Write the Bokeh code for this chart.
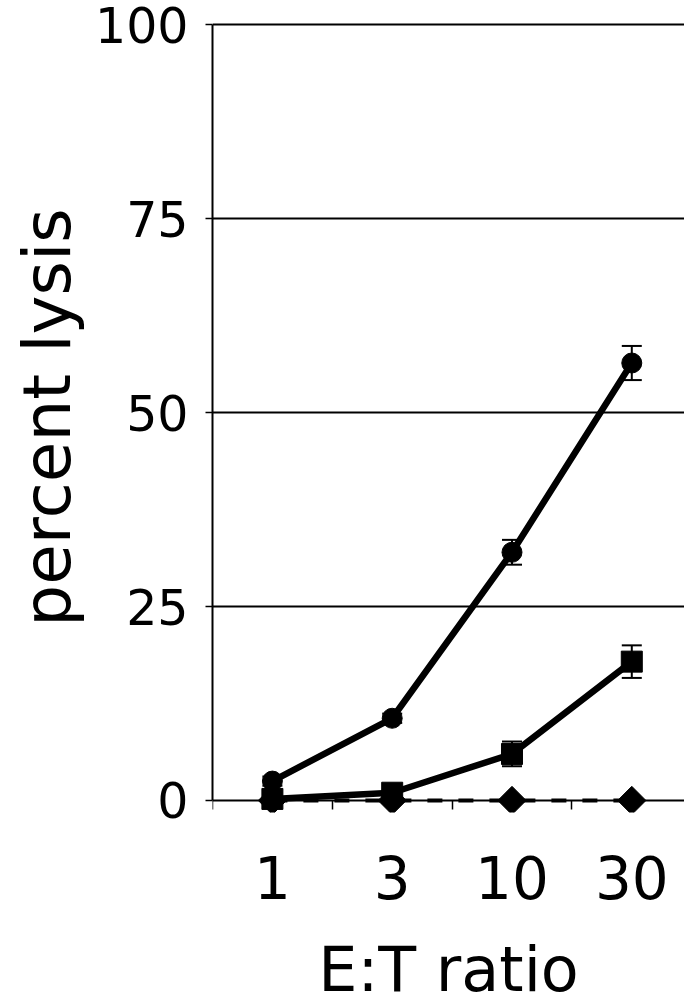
from bokeh.plotting import figure
from bokeh.models import Range1d, FixedTicker, Whisker, TeeHead, ColumnDataSource, LinearAxis
from bokeh.embed import file_html
from bokeh.resources import INLINE

ratios = ["1", "3", "10", "30"]
circle_vals = [2.5, 10.6, 32.0, 56.4]
circle_err = [0.6, 0.6, 1.6, 2.2]
square_vals = [0.2, 1.0, 6.0, 17.9]
square_err = [0.3, 0.4, 1.6, 2.1]
diamond_vals = [0.0, 0.0, 0.0, 0.0]
y_ticks = [0, 25, 50, 75, 100]

xs = [i + 0.5 for i in range(len(ratios))]
bounds = [i for i in range(len(ratios) + 1)]

p = figure(width=684, height=1008, output_backend="svg", toolbar_location=None,
           x_range=Range1d(0, 3.94), y_range=Range1d(-1.55, 100.3),
           min_border_left=212, min_border_top=22, min_border_bottom=196,
           min_border_right=0)
p.outline_line_color = None
p.background_fill_color = "white"
p.border_fill_color = "white"

font = "DejaVu Sans"

# y axis
p.yaxis.ticker = FixedTicker(ticks=y_ticks)
p.yaxis.bounds = (0, 100)
p.yaxis.axis_label = "percent lysis"
p.yaxis.axis_label_text_font = font
p.yaxis.axis_label_text_font_size = "66px"
p.yaxis.axis_label_text_font_style = "normal"
p.yaxis.axis_label_text_color = "black"
p.yaxis.major_label_text_font = font
p.yaxis.major_label_text_font_size = "49px"
p.yaxis.major_label_text_color = "black"
p.yaxis.axis_line_width = 2
p.yaxis.axis_line_color = "black"
p.yaxis.major_tick_in = 0
p.yaxis.major_tick_out = 7
p.yaxis.major_tick_line_width = 1.5
p.yaxis.minor_tick_line_color = None
p.yaxis.major_label_standoff = 17
p.yaxis.axis_label_standoff = 6

# x axis labels (at frame bottom, no line/ticks)
p.xaxis.ticker = FixedTicker(ticks=xs)
p.xaxis.major_label_overrides = {x: r for x, r in zip(xs, ratios)}
p.xaxis.axis_label = "E:T ratio"
p.xaxis.axis_label_text_font = font
p.xaxis.axis_label_text_font_size = "62px"
p.xaxis.axis_label_text_font_style = "normal"
p.xaxis.axis_label_text_color = "black"
p.xaxis.major_label_text_font = font
p.xaxis.major_label_text_font_size = "58px"
p.xaxis.major_label_text_color = "black"
p.xaxis.axis_line_color = None
p.xaxis.major_tick_line_color = None
p.xaxis.major_tick_in = 0
p.xaxis.major_tick_out = 0
p.xaxis.minor_tick_line_color = None
p.xaxis.minor_tick_in = 0
p.xaxis.minor_tick_out = 0
p.xaxis.major_label_standoff = 43
p.xaxis.axis_label_standoff = 31

# x axis line and boundary ticks drawn at y = 0
zero_axis = LinearAxis(fixed_location=0,
                       ticker=FixedTicker(ticks=[], minor_ticks=bounds),
                       axis_line_width=2, axis_line_color="black",
                       major_tick_line_color=None, major_label_text_font_size="0px",
                       minor_tick_in=0, minor_tick_out=9, minor_tick_line_width=1.5,
                       minor_tick_line_color="black")
p.add_layout(zero_axis, "below")

p.xgrid.grid_line_color = None
p.ygrid.ticker = FixedTicker(ticks=y_ticks[1:])
p.ygrid.grid_line_color = "black"
p.ygrid.grid_line_width = 2

# diamonds, dashed line
p.line(xs, diamond_vals, line_color="black", line_width=4, line_dash="15 16")
p.scatter(xs, diamond_vals, marker="square", angle=0.785398, size=20, color="black")

# squares
sq_src = ColumnDataSource(dict(x=xs, y=square_vals,
                               lo=[v - e for v, e in zip(square_vals, square_err)],
                               hi=[v + e for v, e in zip(square_vals, square_err)]))
p.line("x", "y", source=sq_src, line_color="black", line_width=6.5)
p.scatter("x", "y", source=sq_src, marker="square", size=21, color="black")
p.add_layout(Whisker(source=sq_src, base="x", upper="hi", lower="lo", line_width=2,
                     line_color="black",
                     upper_head=TeeHead(size=20, line_width=2, line_color="black"),
                     lower_head=TeeHead(size=20, line_width=2, line_color="black")))

# circles
c_src = ColumnDataSource(dict(x=xs, y=circle_vals,
                              lo=[v - e for v, e in zip(circle_vals, circle_err)],
                              hi=[v + e for v, e in zip(circle_vals, circle_err)]))
p.line("x", "y", source=c_src, line_color="black", line_width=6.5)
p.scatter("x", "y", source=c_src, marker="circle", size=20, color="black")
p.add_layout(Whisker(source=c_src, base="x", upper="hi", lower="lo", line_width=2,
                     line_color="black",
                     upper_head=TeeHead(size=20, line_width=2, line_color="black"),
                     lower_head=TeeHead(size=20, line_width=2, line_color="black")))

open("out.html", "w").write(file_html(p, INLINE))
